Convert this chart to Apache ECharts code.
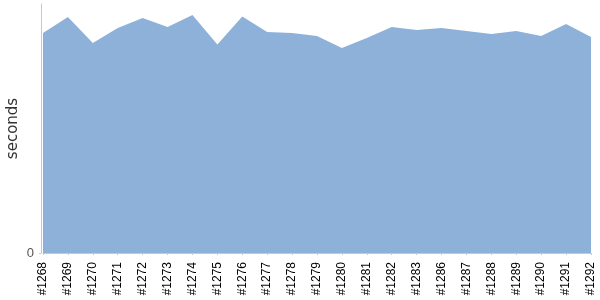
<!DOCTYPE html>
<html>
<head>
<meta charset="utf-8">
<script src="https://cdn.jsdelivr.net/npm/echarts@6/dist/echarts.min.js"></script>
<style>html,body{margin:0;padding:0;background:#fff}#c{width:600px;height:300px}</style>
</head>
<body>
<div id="c"></div>
<script>
const categories = ['#1268','#1269','#1270','#1271','#1272','#1273','#1274','#1275','#1276','#1277','#1278','#1279','#1280','#1281','#1282','#1283','#1286','#1287','#1288','#1289','#1290','#1291','#1292'];
const seconds = [220,236,210,225,235,226,238,208.5,236.5,221,220,217,205,215,226,223,225,222,219,222,217,229,216];
const yMax = 249;

const chart = echarts.init(document.getElementById('c'), null, {renderer:'canvas'});
chart.setOption({
  animation: false,
  grid: {left: 43, right: 9, top: 4, bottom: 47, containLabel: false, outerBoundsMode: 'none'},
  xAxis: {
    type: 'category',
    data: categories,
    boundaryGap: false,
    offset: 2,
    axisLine: {lineStyle: {color: '#c8c8c8', width: 1}},
    axisTick: {alignWithLabel: true, length: 2, lineStyle: {color: '#c8c8c8'}},
    axisLabel: {rotate: 90, interval: 0, margin: 7, color: '#000', fontSize: 12, fontFamily: 'Liberation Sans, Arial, sans-serif'}
  },
  yAxis: {
    type: 'value',
    min: 0, max: yMax, interval: yMax,
    offset: 2,
    name: 'seconds',
    nameLocation: 'middle',
    nameGap: 20,
    nameMoveOverlap: false,
    nameTextStyle: {fontSize: 15, color: '#333', fontFamily: 'DejaVu Sans, sans-serif'},
    axisLine: {show: true, lineStyle: {color: '#c8c8c8', width: 1}},
    axisTick: {show: true, length: 2, lineStyle: {color: '#c8c8c8'}},
    axisLabel: {color: '#555', fontSize: 13, margin: 7, verticalAlign: 'middle', showMaxLabel: false, formatter: v => v === 0 ? '0' : ''},
    splitLine: {show: false}
  },
  series: [{
    type: 'line',
    data: seconds,
    symbol: 'none',
    lineStyle: {width: 0},
    areaStyle: {color: '#8eb1da', opacity: 1}
  }]
});
</script>
</body>
</html>
